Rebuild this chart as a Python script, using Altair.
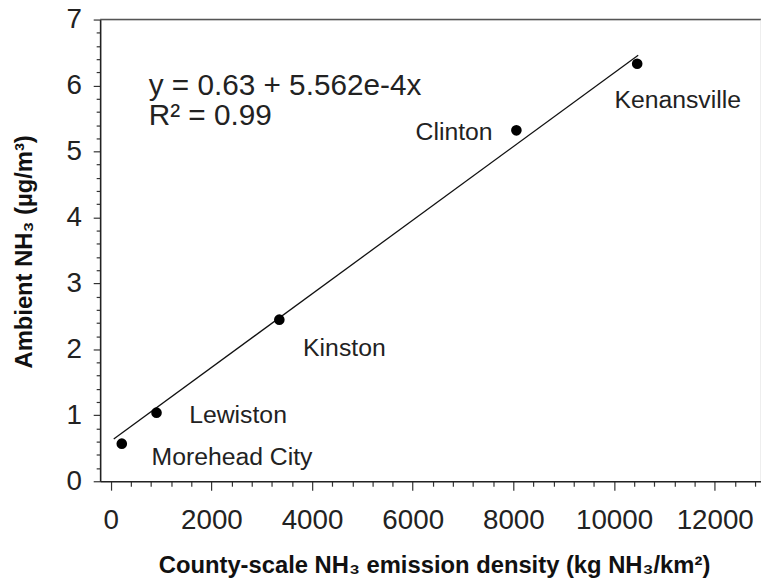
import altair as alt
import pandas as pd

# ---- data ----
cities = ["Morehead City", "Lewiston", "Kinston", "Clinton", "Kenansville"]
emission = [220, 910, 3350, 8060, 10460]
ambient = [0.57, 1.04, 2.45, 5.32, 6.33]

fit_x = [60, 10480]
fit_y = [0.64, 6.46]

x_tick_values = list(range(0, 13000, 400))
y_tick_values = [round(i * 0.2, 1) for i in range(0, 36)]

equation_text = "y = 0.63 + 5.562e-4x"
r2_text = "R² = 0.99"
x_title = "County-scale NH₃ emission density (kg NH₃/km²)"
y_title = "Ambient NH₃ (µg/m³)"

X_DOMAIN = [-210, 12920]
Y_DOMAIN = [0, 7]
FONT = "Liberation Sans"

pts = pd.DataFrame({"city": cities, "x": emission, "y": ambient})
fit = pd.DataFrame({"x": fit_x, "y": fit_y})
one = pd.DataFrame({"k": [0]})

x_scale = alt.Scale(domain=X_DOMAIN, nice=False, zero=False)
y_scale = alt.Scale(domain=Y_DOMAIN, nice=False, zero=False)

x_axis = alt.Axis(
    values=x_tick_values, tickCount=500,
    labelExpr="datum.value % 2000 === 0 ? datum.label : ''",
    format="d",
    tickSize={"condition": {"test": "datum.value % 2000 === 0", "value": 9}, "value": 5},
    labelFontSize=28, labelFont=FONT, labelColor="#222",
    labelPadding=17, labelOverlap=False, labelFlush=False,
    title=x_title, titleFont=FONT, titleFontSize=24, titleFontWeight="bold",
    titleColor="#111", titleX=337, titleY=85, titleBaseline="middle",
    titleAlign="center", grid=False,
    domainColor="#222", domainWidth=1.6, tickColor="#333", tickWidth=1.2,
)
y_axis = alt.Axis(
    values=y_tick_values, tickCount=500,
    labelExpr="abs(datum.value - round(datum.value)) < 0.001 ? format(datum.value, 'd') : ''",
    tickSize={"condition": {"test": "abs(datum.value - round(datum.value)) < 0.001", "value": 7},
              "value": 4},
    labelFontSize=28, labelFont=FONT, labelColor="#222",
    labelPadding=12, labelOverlap=False, labelFlush=False,
    title=y_title, titleFont=FONT, titleFontSize=24, titleFontWeight="bold",
    titleColor="#111", titleX=-76, titleY=234, titleBaseline="middle",
    titleAlign="center", titleAngle=270, grid=False,
    domainColor="#222", domainWidth=1.6, tickColor="#333", tickWidth=1.2,
)

line = alt.Chart(fit).mark_line(color="#111", strokeWidth=1.3).encode(
    x=alt.X("x:Q", scale=x_scale, axis=x_axis),
    y=alt.Y("y:Q", scale=y_scale, axis=y_axis),
)

points = alt.Chart(pts).mark_circle(color="#000", opacity=1, size=115).encode(
    x=alt.X("x:Q", scale=x_scale),
    y=alt.Y("y:Q", scale=y_scale),
)

# label offsets (style)
label_style = {
    "Morehead City": dict(align="left", dx=30, dy=22),
    "Lewiston": dict(align="left", dx=33, dy=10),
    "Kinston": dict(align="left", dx=24, dy=37),
    "Clinton": dict(align="right", dx=-24, dy=10),
    "Kenansville": dict(align="left", dx=-23, dy=45),
}
labels = []
for c in cities:
    s = label_style[c]
    labels.append(
        alt.Chart(pts).transform_filter(alt.datum.city == c).mark_text(
            font=FONT, fontSize=25, color="#222", baseline="alphabetic", **s
        ).encode(
            x=alt.X("x:Q", scale=x_scale),
            y=alt.Y("y:Q", scale=y_scale),
            text="city:N",
        )
    )

eq1 = alt.Chart(one).mark_text(
    font=FONT, fontSize=30, color="#222", align="left", baseline="alphabetic"
).encode(x=alt.datum(754), y=alt.datum(5.86), text=alt.value(equation_text))
eq2 = alt.Chart(one).mark_text(
    font=FONT, fontSize=30, color="#222", align="left", baseline="alphabetic"
).encode(x=alt.datum(754), y=alt.datum(5.40), text=alt.value(r2_text))

top_border = alt.Chart(one).mark_rule(color="#555", strokeWidth=1.5).encode(
    y=alt.datum(Y_DOMAIN[1])
)
right_border = alt.Chart(one).mark_rule(color="#ddd", strokeWidth=1).encode(
    x=alt.datum(X_DOMAIN[1])
)

chart = alt.layer(
    line, top_border, right_border, points, *labels, eq1, eq2
).properties(
    width=667, height=466,
    autosize=alt.AutoSizeParams(type="none"),
    padding={"left": 93, "top": 9, "right": 0, "bottom": 96},
).configure_view(stroke=None).configure(background="white")

chart.save("out.html", embed_options={"renderer": "svg", "actions": False})
